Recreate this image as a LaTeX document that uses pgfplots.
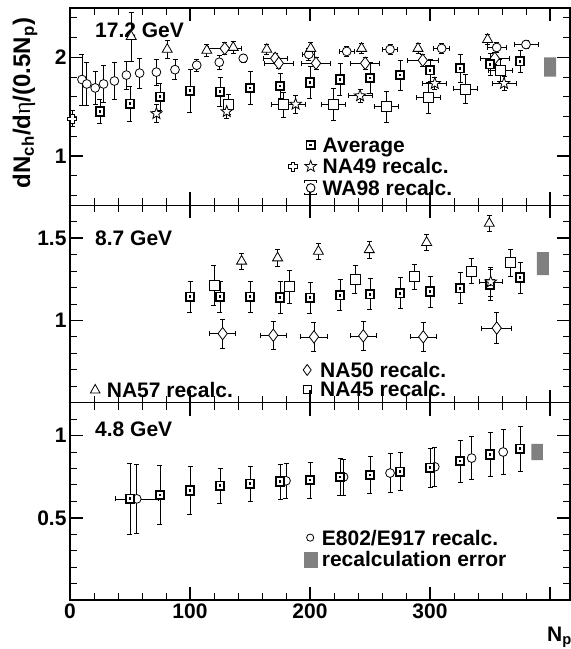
\documentclass[border=0pt]{standalone}
\usepackage{fontspec}
\setmainfont{Liberation Sans}
\newfontfamily\serifeta{Liberation Serif}
\usepackage{pgfplots}
\usepackage{pgfplotstable}
\pgfplotsset{compat=1.18}
\usetikzlibrary{plotmarks}
\tikzset{lt/.style={text height=15pt, text depth=5pt}}

\pgfdeclareplotmark{avg}{%
  \pgfsetlinewidth{1.8pt}%
  \pgfpathrectangle{\pgfpoint{-4.3pt}{-4.3pt}}{\pgfpoint{8.6pt}{8.6pt}}%
  \pgfusepathqfillstroke
  \begin{pgfscope}\pgfsetfillcolor{black}%
  \pgfpathrectangle{\pgfpoint{-1.4pt}{-1.4pt}}{\pgfpoint{2.8pt}{2.8pt}}%
  \pgfusepathqfill\end{pgfscope}}
\pgfdeclareplotmark{opluss}{%
  \pgfpathmoveto{\pgfpoint{-1.6pt}{4.5pt}}\pgfpathlineto{\pgfpoint{1.6pt}{4.5pt}}%
  \pgfpathlineto{\pgfpoint{1.6pt}{1.6pt}}\pgfpathlineto{\pgfpoint{4.5pt}{1.6pt}}%
  \pgfpathlineto{\pgfpoint{4.5pt}{-1.6pt}}\pgfpathlineto{\pgfpoint{1.6pt}{-1.6pt}}%
  \pgfpathlineto{\pgfpoint{1.6pt}{-4.5pt}}\pgfpathlineto{\pgfpoint{-1.6pt}{-4.5pt}}%
  \pgfpathlineto{\pgfpoint{-1.6pt}{-1.6pt}}\pgfpathlineto{\pgfpoint{-4.5pt}{-1.6pt}}%
  \pgfpathlineto{\pgfpoint{-4.5pt}{1.6pt}}\pgfpathlineto{\pgfpoint{-1.6pt}{1.6pt}}%
  \pgfpathclose\pgfusepathqfillstroke}
\pgfdeclareplotmark{ostar}{%
  \pgfpathmoveto{\pgfpointpolar{90}{6pt}}%
  \pgfpathlineto{\pgfpointpolar{126}{2.5pt}}\pgfpathlineto{\pgfpointpolar{162}{6pt}}%
  \pgfpathlineto{\pgfpointpolar{198}{2.5pt}}\pgfpathlineto{\pgfpointpolar{234}{6pt}}%
  \pgfpathlineto{\pgfpointpolar{270}{2.5pt}}\pgfpathlineto{\pgfpointpolar{306}{6pt}}%
  \pgfpathlineto{\pgfpointpolar{342}{2.5pt}}\pgfpathlineto{\pgfpointpolar{18}{6pt}}%
  \pgfpathlineto{\pgfpointpolar{54}{2.5pt}}%
  \pgfpathclose\pgfusepathqfillstroke}

% ---------- 17.2 GeV ----------
\pgfplotstableread{
x y ey
25 1.45 0.12
50 1.53 0.18
75 1.60 0.14
100 1.66 0.22
125 1.65 0.15
150 1.69 0.17
175 1.71 0.13
200 1.745 0.16
225 1.775 0.16
250 1.79 0.16
275 1.82 0.15
300 1.87 0.11
325 1.89 0.14
350 1.93 0.11
375 1.96 0.11
}\avgA
\pgfplotstableread{
x y ex ey
10 1.775 0 0.26
14 1.73 0 0.22
21 1.69 0 0.17
28 1.73 0 0.19
37 1.76 0 0.19
47 1.82 0 0.14
58 1.84 0 0.15
72 1.85 0 0.13
87.5 1.875 0 0.10
105.6 1.92 0 0.06
124.4 1.95 0 0.07
144.4 1.99 0 0.04
199 2.03 5 0.06
230.6 2.06 6.5 0.05
266.7 2.08 6.5 0.05
309.7 2.09 6.5 0.05
355.6 2.10 8 0.05
380 2.13 10 0.04
}\waA
\pgfplotstableread{
x y ey
51 2.21 0.25
81 2.08 0.09
114 2.07 0.06
136 2.10 0.06
164 2.08 0.05
200.6 2.09 0.06
243 2.09 0.05
290 2.09 0.05
348 2.18 0.05
}\nafsA
\pgfplotstableread{
x y ex ey
129 2.09 14 0.06
171 1.99 10 0.05
174 1.94 12 0.05
205 1.94 12 0.06
246 1.94 12 0.06
294 1.97 13 0.06
354 1.99 12 0.06
}\nafzA
\pgfplotstableread{
x y ex ey
72 1.43 0 0.09
130.6 1.45 0 0.07
188 1.525 8 0.09
241.7 1.61 10 0.07
304 1.735 10 0.06
361.7 1.735 10 0.07
}\nafnA
\pgfplotstableread{
x y ex ey
132 1.52 0 0.10
178 1.52 10 0.13
219.4 1.525 10 0.16
263.9 1.50 10 0.16
298.6 1.59 10 0.16
329.7 1.68 10 0.15
358.3 1.87 10 0.11
}\naffA
\pgfplotstableread{
x y ex ey
2 1.38 2 0.08
}\crossA
% ---------- 8.7 GeV ----------
\pgfplotstableread{
x y ey
100 1.144 0.095
125 1.144 0.095
150 1.144 0.095
175 1.14 0.095
200 1.138 0.095
225 1.154 0.095
250 1.16 0.095
275 1.166 0.095
300 1.176 0.095
325 1.196 0.095
350 1.218 0.095
375 1.26 0.095
}\avgB
\pgfplotstableread{
x y ey
120 1.214 0.12
183 1.206 0.10
237.5 1.25 0.086
286.7 1.266 0.075
334.2 1.30 0.075
367.2 1.35 0.08
}\naffB
\pgfplotstableread{
x y ey
143 1.36 0.05
173 1.38 0.05
207 1.42 0.05
249.4 1.43 0.05
297.2 1.474 0.05
349.4 1.59 0.05
}\nafsB
\pgfplotstableread{
x y ex ey
127.2 0.92 11 0.087
169.4 0.91 11 0.087
203.3 0.90 11 0.087
244.4 0.906 11 0.087
294.4 0.90 11 0.087
355.6 0.954 12.5 0.093
}\nafzB
\pgfplotstableread{
x y ex ey
350.6 1.234 9.7 0.09
}\nafnB
% ---------- 4.8 GeV ----------
\pgfplotstableread{
x y ey
50 0.615 0.215
75 0.639 0.18
100 0.667 0.145
125 0.695 0.108
150 0.707 0.108
175 0.72 0.106
200 0.73 0.11
225 0.748 0.114
250 0.76 0.114
275 0.78 0.116
300 0.804 0.12
325 0.845 0.127
350 0.885 0.133
375 0.92 0.138
}\avgC
\pgfplotstableread{
x y ex ey
55.6 0.615 18 0.21
180 0.725 0 0.105
228 0.748 0 0.11
266.7 0.772 0 0.117
304 0.81 0 0.12
334.7 0.863 0 0.13
361 0.90 0 0.135
}\eC

\pgfplotsset{
  panel/.style={width=500pt, height=197.33pt, scale only axis, set layers,
    xmin=0, xmax=416.67, xtick={0,100,200,300,400}, xticklabels={},
    minor xtick={20,40,60,80,120,140,160,180,220,240,260,280,320,340,360,380},
    tick align=inside, major tick length=13pt, minor tick length=7pt,
    axis line style={line width=1.5pt}, every tick/.style={black},
    major tick style={line width=1.5pt}, minor tick style={line width=0.8pt},
    tick label style={font=\bfseries\fontsize{21}{21}\selectfont},
    /pgf/number format/assume math mode=true,
    legend cell align=left,
    legend style={draw=none, fill=none, inner sep=0pt, nodes={inner sep=0pt},
      font=\bfseries\fontsize{21}{22}\selectfont},
  },
  ebxy/.style={only marks, mark=none, forget plot, on layer=pre main,
    error bars/.cd, x dir=both, x explicit, y dir=both, y explicit,
    error bar style={line width=0.7pt, black, solid},
    error mark options={rotate=90, mark size=2.5pt, line width=0.7pt, black, solid}},
  eby/.style={only marks, mark=none, forget plot, on layer=pre main,
    error bars/.cd, y dir=both, y explicit,
    error bar style={line width=0.7pt, black, solid},
    error mark options={rotate=90, mark size=2.5pt, line width=0.7pt, black, solid}},
  mk/.style={only marks, forget plot, mark options={solid, draw=black, fill=white, line width=0.8pt}},
}

\begin{document}
\begin{tikzpicture}
% ================= 17.2 GeV =================
\begin{axis}[panel, at={(0,394.67pt)}, anchor=south west,
  ymin=0.5, ymax=2.5, ytick={1,2}, yticklabels={1,2},
  minor ytick={0.6,0.8,1.2,1.4,1.6,1.8,2.2,2.4},
  legend style={at={(axis description cs:0.436,0.345)}, anchor=north west, row sep=1.5pt}]
\addplot[draw=none, fill=gray, forget plot] coordinates {(395,1.805) (405,1.805) (405,2.0) (395,2.0) (395,1.805)};
\addplot[ebxy] table[x=x, y=y, x error=ex, y error=ey] {\waA};
\addplot[eby] table[x=x, y=y, y error=ey] {\nafsA};
\addplot[ebxy] table[x=x, y=y, x error=ex, y error=ey] {\nafzA};
\addplot[ebxy] table[x=x, y=y, x error=ex, y error=ey] {\naffA};
\addplot[ebxy] table[x=x, y=y, x error=ex, y error=ey] {\nafnA};
\addplot[ebxy] table[x=x, y=y, x error=ex, y error=ey] {\crossA};
\addplot[eby] table[x=x, y=y, y error=ey] {\avgA};
\addplot[mk, mark=*, mark size=4.4pt] table[x=x, y=y] {\waA};
\addplot[mk, mark=triangle*, mark size=5.8pt] table[x=x, y=y] {\nafsA};
\addplot[mk, mark=diamond*, mark size=6.2pt] table[x=x, y=y] {\nafzA};
\addplot[mk, mark=square*, mark size=5pt] table[x=x, y=y] {\naffA};
\addplot[mk, mark=ostar] table[x=x, y=y] {\nafnA};
\addplot[mk, mark=opluss] table[x=x, y=y] {\crossA};
\addplot[mk, mark=avg] table[x=x, y=y] {\avgA};
\addlegendimage{legend image code/.code={\path[draw=none,fill=none] (-22pt,-6pt) rectangle (12pt,6pt);
  \pgfsetstrokecolor{black}\pgfsetfillcolor{white}\pgftransformyshift{2.5pt}\pgfuseplotmark{avg}}}
\addlegendentry[lt]{Average}
\addlegendimage{legend image code/.code={\path[draw=none,fill=none] (-22pt,-6pt) rectangle (12pt,6pt);
  \pgfsetstrokecolor{black}\pgfsetlinewidth{0.8pt}\pgfsetfillcolor{white}\pgftransformyshift{2.5pt}%
  \begin{pgfscope}\pgftransformxshift{-18pt}\pgfuseplotmark{opluss}\end{pgfscope}%
  \pgfuseplotmark{ostar}}}
\addlegendentry[lt]{NA49 recalc.}
\addlegendimage{legend image code/.code={\path[draw=none,fill=none] (-22pt,-6pt) rectangle (12pt,6pt);
  \begin{scope}[yshift=2.5pt]
  \draw[black, fill=none, line width=0.9pt] (0,0) circle (4.3pt);
  \draw[black, line width=0.9pt] (-6pt,5pt) -- (-6pt,7pt) -- (6pt,7pt) -- (6pt,5pt);
  \draw[black, line width=0.9pt] (-6pt,-5pt) -- (-6pt,-7pt) -- (6pt,-7pt) -- (6pt,-5pt);
  \end{scope}}}
\addlegendentry[lt]{WA98 recalc.}
\node[anchor=base west, inner sep=0pt, font=\bfseries\fontsize{21}{21}\selectfont]
  at (axis description cs:0.05,0.851) {17.2 GeV};
\end{axis}

% ================= 8.7 GeV =================
\begin{axis}[panel, at={(0,197.33pt)}, anchor=south west,
  ymin=0.5, ymax=1.7, ytick={1,1.5}, yticklabels={1,1.5},
  minor ytick={0.6,0.7,0.8,0.9,1.1,1.2,1.3,1.4,1.6},
  legend style={at={(axis description cs:0.458,0.005)}, anchor=south west, row sep=-1pt}]
\addplot[draw=none, fill=gray, forget plot] coordinates {(389,1.276) (399,1.276) (399,1.416) (389,1.416) (389,1.276)};
\addplot[eby] table[x=x, y=y, y error=ey] {\nafsB};
\addplot[ebxy] table[x=x, y=y, x error=ex, y error=ey] {\nafzB};
\addplot[eby] table[x=x, y=y, y error=ey] {\naffB};
\addplot[ebxy] table[x=x, y=y, x error=ex, y error=ey] {\nafnB};
\addplot[eby] table[x=x, y=y, y error=ey] {\avgB};
\addplot[mk, mark=triangle*, mark size=5.8pt] table[x=x, y=y] {\nafsB};
\addplot[mk, mark=diamond*, mark size=6.2pt] table[x=x, y=y] {\nafzB};
\addplot[mk, mark=square*, mark size=5pt] table[x=x, y=y] {\naffB};
\addplot[mk, mark=avg] table[x=x, y=y] {\avgB};
\addplot[mk, mark=ostar] table[x=x, y=y] {\nafnB};
\addlegendimage{legend image code/.code={\path[draw=none,fill=none] (-8pt,-6pt) rectangle (13pt,6pt);
  \draw[black, fill=none, line width=0.8pt, yshift=2.5pt] (0,5.5pt) -- (4pt,0) -- (0,-5.5pt) -- (-4pt,0) -- cycle;}}
\addlegendentry[lt]{NA50 recalc.}
\addlegendimage{legend image code/.code={\path[draw=none,fill=none] (-8pt,-6pt) rectangle (13pt,6pt);
  \draw[black, fill=none, line width=0.8pt, yshift=2.5pt] (-4pt,-4pt) rectangle (4pt,4pt);}}
\addlegendentry[lt]{NA45 recalc.}
\node[anchor=base west, inner sep=0pt, font=\bfseries\fontsize{21}{21}\selectfont]
  at (axis description cs:0.05,0.794) {8.7 GeV};
\end{axis}
% separate legend for NA57
\begin{axis}[panel, at={(0,197.33pt)}, anchor=south west, hide axis,
  ymin=0, ymax=1,
  legend style={at={(axis description cs:0.034,0.0)}, anchor=south west}]
\addlegendimage{legend image code/.code={\path[draw=none,fill=none] (-8pt,-6pt) rectangle (11.7pt,6pt);
  \draw[black, fill=none, line width=0.8pt, yshift=2.5pt] (0,5.5pt) -- (4.8pt,-3pt) -- (-4.8pt,-3pt) -- cycle;}}
\addlegendentry[lt]{NA57 recalc.}
\end{axis}

% ================= 4.8 GeV =================
\begin{axis}[panel, at={(0,0)}, anchor=south west,
  xticklabels={0,100,200,300,{}},
  ymin=0, ymax=1.2, ytick={0.5,1}, yticklabels={0.5,1},
  minor ytick={0.1,0.2,0.3,0.4,0.6,0.7,0.8,0.9,1.1},
  legend style={at={(axis description cs:0.464,0.355)}, anchor=north west, row sep=1.5pt}]
\addplot[draw=none, fill=gray, forget plot] coordinates {(384.4,0.85) (394,0.85) (394,0.95) (384.4,0.95) (384.4,0.85)};
\addplot[ebxy] table[x=x, y=y, x error=ex, y error=ey] {\eC};
\addplot[eby] table[x=x, y=y, y error=ey] {\avgC};
\addplot[mk, mark=*, mark size=4.4pt] table[x=x, y=y] {\eC};
\addplot[mk, mark=avg] table[x=x, y=y] {\avgC};
\addlegendimage{legend image code/.code={\path[draw=none,fill=none] (-8pt,-7.5pt) rectangle (11.7pt,7.5pt);
  \draw[black, fill=none, line width=0.8pt] (0,2.5pt) circle (3.6pt);}}
\addlegendentry[lt]{E802/E917 recalc.}
\addlegendimage{legend image code/.code={\path[draw=none,fill=none] (-8pt,-7.5pt) rectangle (11.7pt,7.5pt);
  \fill[gray] (-6pt,-5pt) rectangle (6.7pt,10pt);}}
\addlegendentry[lt]{recalculation error}
\node[anchor=base west, inner sep=0pt, font=\bfseries\fontsize{21}{21}\selectfont]
  at (axis description cs:0.05,0.831) {4.8 GeV};
\end{axis}

\node[rotate=90, inner sep=0pt, font=\bfseries\fontsize{24}{24}\selectfont]
  at (-45pt,497pt) {dN\textsubscript{ch}/d{\serifeta\mdseries η}/(0.5N\textsubscript{p})};
\node[anchor=base west, inner sep=0pt, font=\bfseries\fontsize{21}{21}\selectfont]
  at (477pt,-41pt) {N\textsubscript{p}};
\pgfresetboundingbox
\path[use as bounding box] (-70pt,-49pt) rectangle (501pt,600pt);
\end{tikzpicture}
\end{document}
